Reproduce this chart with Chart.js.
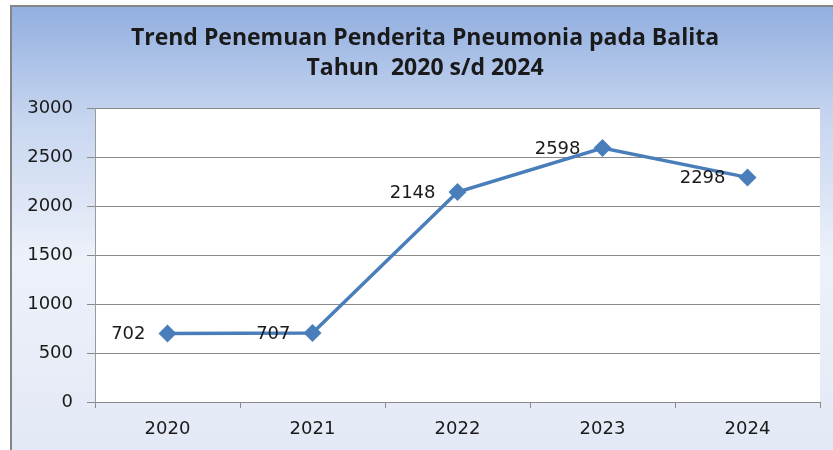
<!DOCTYPE html>
<html>
<head>
<meta charset="utf-8">
<script src="https://cdn.jsdelivr.net/npm/chart.js@4.4.1/dist/chart.umd.min.js"></script>
<style>
  html, body { margin: 0; padding: 0; background: #fff; overflow: hidden; width: 833px; height: 450px; }
  #frame {
    position: absolute; left: 10px; top: 5px;
    width: 830px; height: 458px;
    border-left: 2px solid #858585; border-top: 2px solid #858585;
    background: linear-gradient(to bottom, #92afe0 0%, #c6d5ef 24%, #edf1fa 55%, #e2e8f5 100%);
  }
  #trend { display: block; }
</style>
</head>
<body>
<div id="frame"><canvas id="trend" width="830" height="458"></canvas></div>
<script>
const years = ['2020', '2021', '2022', '2023', '2024'];
const penderita = [702, 707, 2148, 2598, 2298];
const yTicks = [0, 500, 1000, 1500, 2000, 2500, 3000];
const titleLines = ['Trend Penemuan Penderita Pneumonia pada Balita', 'Tahun  2020 s/d 2024'];

const textColor = '#1a1a1a';
const gridColor = '#8a8a8a';
const lineColor = '#4a7ebb';

// area plot putih
const plotBg = {
  id: 'plotBg',
  beforeDraw(chart) {
    const a = chart.chartArea;
    chart.ctx.save();
    chart.ctx.fillStyle = '#ffffff';
    chart.ctx.fillRect(a.left, a.top, a.right - a.left, a.bottom - a.top);
    chart.ctx.restore();
  }
};

// label angka di kiri tiap titik
const pointLabels = {
  id: 'pointLabels',
  afterDatasetsDraw(chart) {
    const ctx = chart.ctx;
    const meta = chart.getDatasetMeta(0);
    ctx.save();
    ctx.font = '18px "DejaVu Sans"';
    ctx.fillStyle = textColor;
    ctx.textAlign = 'right';
    ctx.textBaseline = 'middle';
    meta.data.forEach((pt, i) => {
      ctx.fillText(String(penderita[i]), pt.x - 22, pt.y + 1);
    });
    ctx.restore();
  }
};

const ctx = document.getElementById('trend').getContext('2d');
new Chart(ctx, {
  type: 'line',
  data: {
    labels: years,
    datasets: [{
      data: penderita,
      borderColor: lineColor,
      backgroundColor: lineColor,
      borderWidth: 3.5,
      pointStyle: 'rectRot',
      pointRadius: 9,
      pointBorderWidth: 0,
      tension: 0
    }]
  },
  options: {
    responsive: false,
    animation: false,
    layout: { padding: { left: 0, right: 4, top: 0, bottom: 0 } },
    plugins: {
      legend: { display: false },
      tooltip: { enabled: false },
      title: {
        display: true,
        text: titleLines,
        color: textColor,
        font: { family: 'Open Sans', weight: 'bold', size: 23, lineHeight: 1.3 },
        padding: { top: 17, bottom: 25 }
      }
    },
    scales: {
      x: {
        offset: true,
        grid: { offset: true, drawOnChartArea: false, color: gridColor, tickLength: 6 },
        border: { color: gridColor },
        ticks: { color: textColor, font: { family: 'DejaVu Sans', size: 18 }, padding: 11 },
        afterFit(scale) { scale.height = 63; }
      },
      y: {
        min: 0,
        max: 3000,
        afterBuildTicks(scale) { scale.ticks = yTicks.map(v => ({ value: v })); },
        grid: { color: gridColor, tickLength: 8 },
        border: { color: '#9a9a9a' },
        ticks: {
          color: textColor,
          font: { family: 'DejaVu Sans', size: 18 },
          padding: 14,
          callback: v => String(v)
        },
        afterFit(scale) { scale.width = 83; }
      },
      // sumbu kanan kosong, hanya untuk jarak
      yRight: {
        position: 'right',
        min: 0,
        max: 3000,
        grid: { drawOnChartArea: false, drawTicks: false },
        border: { display: false },
        ticks: { display: false },
        afterFit(scale) { scale.width = 18; }
      }
    }
  },
  plugins: [plotBg, pointLabels]
});
</script>
</body>
</html>
